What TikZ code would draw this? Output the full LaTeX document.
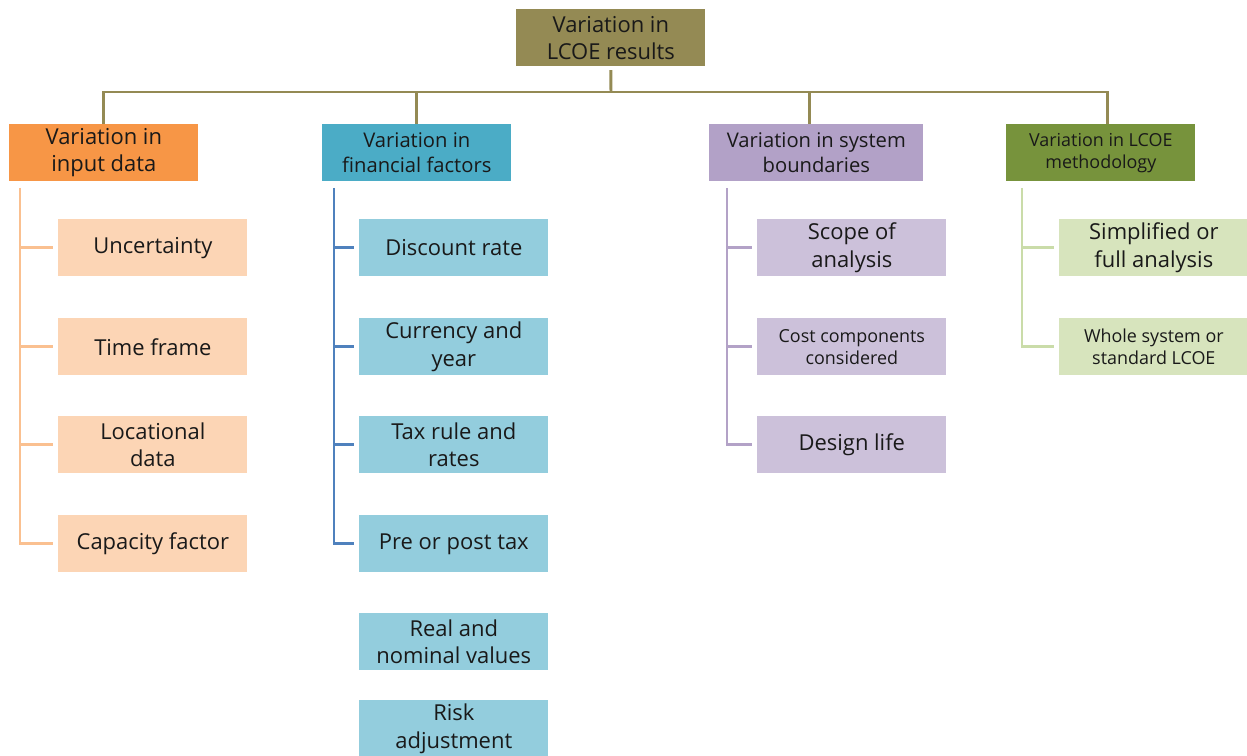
\documentclass[tikz,border=0pt]{standalone}
\usepackage{fontspec}
\setmainfont{Open Sans}
\usetikzlibrary{positioning}
\definecolor{olive}{HTML}{948A54}
\definecolor{orangeA}{HTML}{F79646}
\definecolor{orangeB}{HTML}{FCD5B5}
\definecolor{orangeL}{HTML}{FAC090}
\definecolor{tealA}{HTML}{4BACC6}
\definecolor{tealB}{HTML}{93CDDD}
\definecolor{blueL}{HTML}{4F81BD}
\definecolor{lilacA}{HTML}{B2A1C7}
\definecolor{lilacB}{HTML}{CCC1DA}
\definecolor{lilacL}{HTML}{B3A2C7}
\definecolor{greenA}{HTML}{77933C}
\definecolor{greenB}{HTML}{D7E4BD}
\definecolor{greenL}{HTML}{CADCA9}
\tikzset{
  box/.style={anchor=north west,inner sep=0pt,minimum width=3.78cm,minimum height=1.14cm,
    align=center,font=\fontsize{12.5}{15.5}\selectfont,text=black!90},
  smalltext/.style={font=\fontsize{10.2}{12.8}\selectfont},
  bus/.style={draw=olive,line width=1.7pt},
  branch/.style={line width=1.6pt,shorten >=0.1cm}
}
\begin{document}
\begin{tikzpicture}[x=0.02cm,y=-0.02cm]
\useasboundingbox (0,0) rectangle (1247,756);
% top
\node[box,fill=olive] (root) at (516,9) {Variation in\\LCOE results};
\node[box,fill=orangeA] (input) at (9,124) {Variation in\\input data};
\node[box,fill=tealA,font=\fontsize{11.5}{14.5}\selectfont] (fin) at (322,124) {Variation in\\financial factors};
\node[box,fill=lilacA,minimum width=4.28cm,font=\fontsize{11.5}{14.5}\selectfont] (sys) at (709,124) {Variation in system\\boundaries};
\node[box,fill=greenA,smalltext] (meth) at (1006,124) {Variation in LCOE\\methodology};
\coordinate (hub) at (611,92);
\draw[bus,shorten <=2pt] (root.south) -- (hub);
\draw[bus] (input.north) -- (input.north |- hub) -- (1107,92) -- (1107,124);
\draw[bus] (fin.north |- hub) -- (fin.north);
\draw[bus] (809,92) -- (809,124);

% input data
\node[box,fill=orangeB] (unc) at (58,219) {Uncertainty};
\node[box,fill=orangeB] (time) at (58,318) {Time frame};
\node[box,fill=orangeB] (loc) at (58,416) {Locational\\data};
\node[box,fill=orangeB] (cap) at (58,515) {Capacity factor};
\coordinate (inTop) at (20,188);
\draw[branch,orangeL] (inTop) |- (cap.west);
\draw[branch,orangeL] (unc.west -| inTop) -- (unc.west);
\draw[branch,orangeL] (time.west -| inTop) -- (time.west);
\draw[branch,orangeL] (loc.west -| inTop) -- (loc.west);

% financial factors
\node[box,fill=tealB] (disc) at (359,219) {Discount rate};
\node[box,fill=tealB] (cur) at (359,318) {Currency and\\year};
\node[box,fill=tealB] (tax) at (359,416) {Tax rule and\\rates};
\node[box,fill=tealB] (pre) at (359,515) {Pre or post tax};
\node[box,fill=tealB] (real) at (359,613) {Real and\\nominal values};
\node[box,fill=tealB] (risk) at (359,700) {Risk\\adjustment};
\coordinate (finTop) at (334,188);
\draw[branch,blueL] (finTop) |- (pre.west);
\draw[branch,blueL] (disc.west -| finTop) -- (disc.west);
\draw[branch,blueL] (cur.west -| finTop) -- (cur.west);
\draw[branch,blueL] (tax.west -| finTop) -- (tax.west);

% system boundaries
\node[box,fill=lilacB] (scope) at (757,219) {Scope of\\analysis};
\node[box,fill=lilacB,smalltext] (cost) at (757,318) {Cost components\\considered};
\node[box,fill=lilacB] (life) at (757,416) {Design life};
\coordinate (sysTop) at (727,188);
\draw[branch,lilacL] (sysTop) |- (life.west);
\draw[branch,lilacL] (scope.west -| sysTop) -- (scope.west);
\draw[branch,lilacL] (cost.west -| sysTop) -- (cost.west);

% methodology
\node[box,fill=greenB] (simp) at (1059,219) {Simplified or\\full analysis};
\node[box,fill=greenB,smalltext] (whole) at (1059,318) {Whole system or\\standard LCOE};
\coordinate (methTop) at (1022,188);
\draw[branch,greenL] (methTop) |- (whole.west);
\draw[branch,greenL] (simp.west -| methTop) -- (simp.west);

\end{tikzpicture}
\end{document}
